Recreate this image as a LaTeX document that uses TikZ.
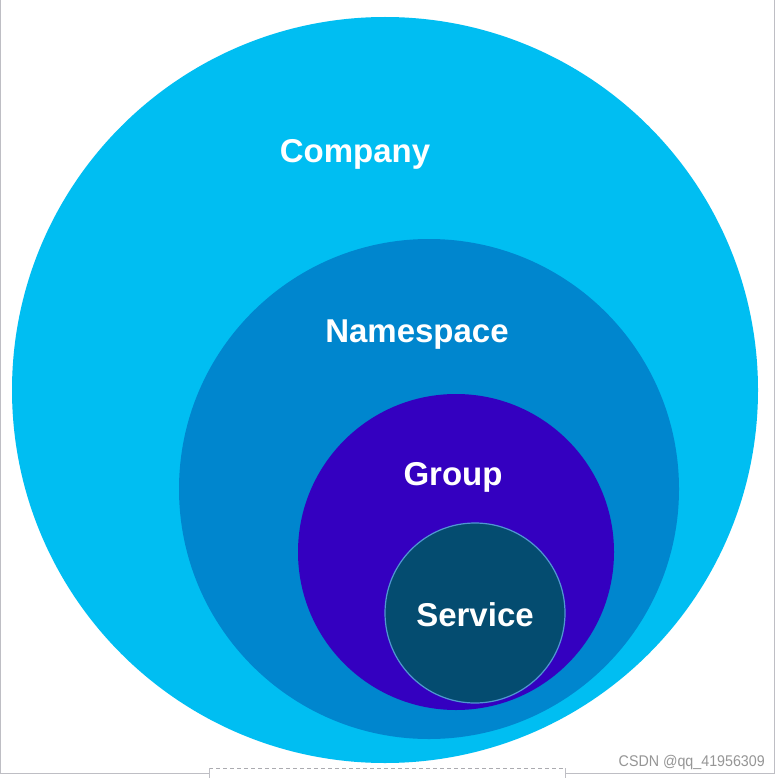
\documentclass[tikz,border=0pt]{standalone}
\usepackage{fontspec}
\setmainfont{Liberation Sans}
\definecolor{cCompany}{RGB}{0,190,242}
\definecolor{cNamespace}{RGB}{0,134,206}
\definecolor{cGroup}{RGB}{52,0,192}
\definecolor{cService}{RGB}{4,76,112}
\definecolor{cServiceRim}{RGB}{80,150,210}
\definecolor{cFrame}{RGB}{190,190,196}
\definecolor{cMark}{RGB}{150,150,150}
\tikzset{
  ring/.style={circle, draw=none, inner sep=0pt},
  lbl/.style={text=white, font=\fontsize{33}{36}\selectfont\bfseries, inner sep=0pt},
  frame/.style={draw=cFrame, line width=1pt}
}
\begin{document}
\begin{tikzpicture}[x=1pt,y=-1pt]
\useasboundingbox (0,0) rectangle (781,778);
\fill[white] (0,0) rectangle (781,778);
% frame
\coordinate (tl) at (0.5,0);
\coordinate (bl) at (0.5,773);
\coordinate (tr) at (774.5,0);
\coordinate (br) at (774.5,773);
\coordinate (d1) at (209,773);
\coordinate (d2) at (565,773);
\draw[frame] (tl) -- (bl) -- (d1);
\draw[frame] (d2) -- (br) -- (tr);
\coordinate (e1) at (209,768);
\coordinate (e2) at (565,768);
\coordinate (f1) at (209,778);
\coordinate (f2) at (565,778);
\draw[draw=cFrame!90!black, dashed, dash pattern=on 4pt off 3pt, line width=0.8pt] (e1) -- (e2);
\draw[frame] (e1) -- (f1);
\draw[frame] (e2) -- (f2);
% circles
\node[ring, fill=cCompany, minimum size=746pt] (company) at (385,390) {};
\node[ring, fill=cNamespace, minimum size=500pt] (namespace) at (429,489) {};
\node[ring, fill=cGroup, minimum size=316pt] (group) at (456,552) {};
\node[ring, fill=cService, draw=cServiceRim, line width=1.2pt, minimum size=180pt] (service) at (475,613) {};
% labels
\node[lbl] (tcompany) at (355,154) {Company};
\node[lbl] (tnamespace) at (417,335) {Namespace};
\node[lbl] (tgroup) at (453,477) {Group};
\node[lbl] (tservice) at (475,615) {Service};
% watermark
\node[text=cMark, font=\fontsize{15.5}{17}\selectfont, anchor=base east, inner sep=0pt, xscale=0.92] (mark) at (765,766) {CSDN @qq\_41956309};
\end{tikzpicture}
\end{document}
